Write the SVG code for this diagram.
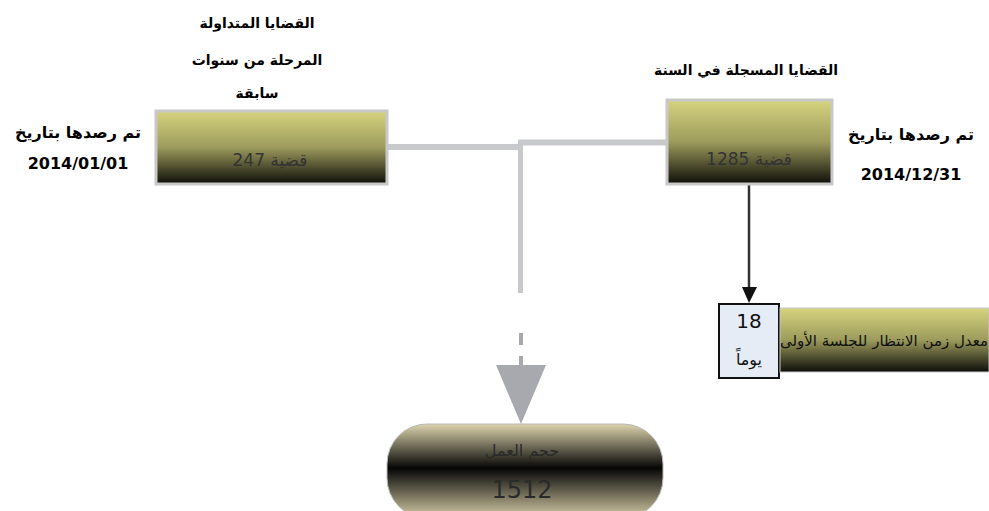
<svg xmlns="http://www.w3.org/2000/svg" width="989" height="511" viewBox="0 0 989 511">
<defs>
<linearGradient id="olive" x1="0" y1="0" x2="0" y2="1">
<stop offset="0" stop-color="#d6d47f"/>
<stop offset="0.5" stop-color="#9c9b5c"/>
<stop offset="1" stop-color="#0e0e0a"/>
</linearGradient>
<linearGradient id="tan" x1="0" y1="0" x2="0" y2="1">
<stop offset="0" stop-color="#ddd4ad"/>
<stop offset="0.47" stop-color="#050505"/>
<stop offset="1" stop-color="#d6cda6"/>
</linearGradient>
</defs>
<style>
text{font-family:"DejaVu Sans",sans-serif;text-anchor:middle;}
.lbl{font-size:14px;font-weight:bold;fill:#000;}
.date{font-size:16px;font-weight:bold;fill:#000;}
.box{stroke:#c8c8c8;stroke-width:3;}
.in{font-size:17px;fill:#333;}
.gray{stroke:#c8c9cc;fill:none;}
</style>
<g id="connectors">
<path class="gray" d="M387 147 H522" stroke-width="6"/>
<path class="gray" d="M518 142.5 H667" stroke-width="6"/>
<path class="gray" d="M520.5 140 V293" stroke-width="5"/>
<path d="M521 333 V345" stroke="#a8a9ae" stroke-width="4"/>
<path d="M521 356 V366" stroke="#a8a9ae" stroke-width="4"/>
<polygon points="496,365 546,365 521,424" fill="#a8a9ae"/>
<path d="M749 184 V290" stroke="#333" stroke-width="2.5"/>
<polygon points="742,287 757,287 749,303" fill="#111"/>
</g>
<g id="node-left">
<rect class="box" x="156" y="111" width="231" height="73" fill="url(#olive)"/>
<text class="in" x="270" y="166">247 قضية</text>
</g>
<g id="label-left-title">
<text class="lbl" x="257" y="28">القضايا المتداولة</text>
<text class="lbl" x="257" y="65">المرحلة من سنوات</text>
<text class="lbl" x="257" y="98">سابقة</text>
</g>
<g id="label-left-date">
<text class="date" x="78" y="138">تم رصدها بتاريخ</text>
<text class="date" x="78" y="169">2014/01/01</text>
</g>
<g id="node-right">
<rect class="box" x="667" y="100" width="165" height="84" fill="url(#olive)"/>
<text class="in" x="749" y="165">1285 قضية</text>
</g>
<g id="label-right-title">
<text class="lbl" x="746" y="75">القضايا المسجلة في السنة</text>
</g>
<g id="label-right-date">
<text class="date" x="911" y="140">تم رصدها بتاريخ</text>
<text class="date" x="911" y="180">2014/12/31</text>
</g>
<g id="node-wait">
<rect x="719" y="304" width="60" height="74" fill="#e6ecf5" stroke="#111" stroke-width="2"/>
<text x="749" y="328" font-size="20" fill="#111">18</text>
<text x="749" y="365" font-size="16" fill="#111">يوماً</text>
<rect x="780" y="308" width="209" height="64" fill="url(#olive)" stroke="#c8c8c8" stroke-width="1"/>
<text x="884" y="346" font-size="15" fill="#111">معدل زمن الانتظار للجلسة الأولى</text>
</g>
<g id="node-total">
<rect x="387" y="424" width="276" height="94" rx="40" ry="40" fill="url(#tan)" stroke="#b8b8b8" stroke-width="1"/>
<text x="522" y="456" font-size="16" fill="#2a2a2a">حجم العمل</text>
<text x="522" y="498" font-size="24" fill="#2a2a2a">1512</text>
</g>
</svg>
